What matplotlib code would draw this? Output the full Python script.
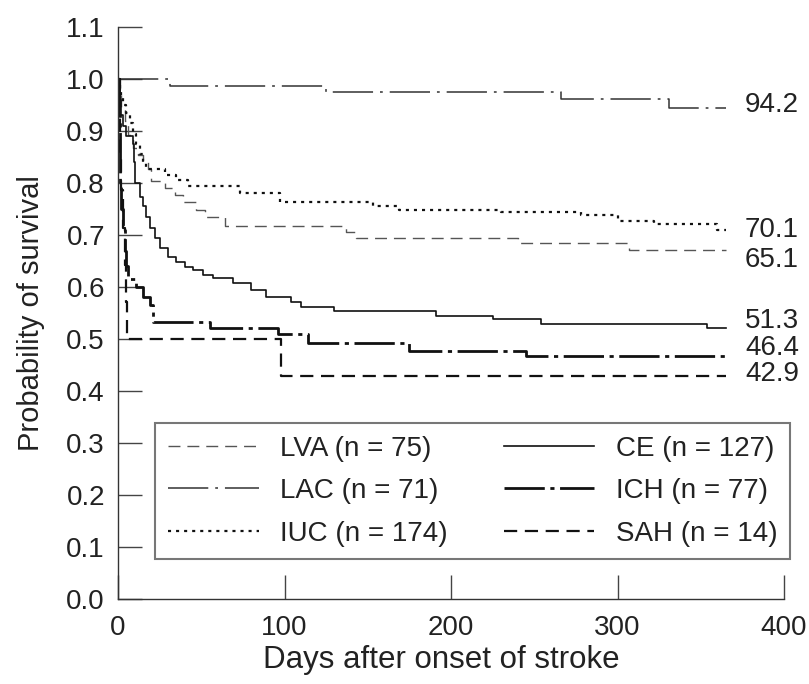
import matplotlib
matplotlib.use("Agg")
import matplotlib.pyplot as plt

# ---------------------------------------------------------
# DATA (Kaplan-Meier steps)
# ---------------------------------------------------------
lva_days = [0, 1, 2, 4, 6, 9, 12, 15, 18, 20, 28, 34, 39, 47, 52, 64, 137, 143, 240, 307, 365]
lva_surv = [1.0, 0.973, 0.947, 0.92, 0.893, 0.867, 0.853, 0.84, 0.827, 0.803, 0.79, 0.777,
            0.764, 0.748, 0.735, 0.717, 0.706, 0.694, 0.684, 0.671, 0.671]

lac_days = [0, 31, 125, 266, 331, 365]
lac_surv = [1.0, 0.987, 0.975, 0.961, 0.945, 0.945]

iuc_days = [0, 1, 2, 3, 5, 7, 9, 11, 13, 15, 17, 28, 35, 42, 73, 97, 153, 169, 230, 278, 300, 322, 360, 365]
iuc_surv = [1.0, 0.98, 0.965, 0.95, 0.935, 0.915, 0.895, 0.875, 0.855, 0.84, 0.826, 0.815,
            0.805, 0.795, 0.78, 0.764, 0.755, 0.748, 0.745, 0.738, 0.726, 0.722, 0.71, 0.71]

ce_days = [0, 1, 2, 3, 5, 9, 9.6, 10, 13, 15, 17, 19, 22, 25, 30, 35, 40, 45, 51, 57, 69, 80,
           89, 104, 110, 130, 191, 225, 254, 354, 365]
ce_surv = [1.0, 0.96, 0.93, 0.91, 0.89, 0.875, 0.84, 0.80, 0.774, 0.755, 0.735, 0.713, 0.694,
           0.675, 0.658, 0.649, 0.639, 0.633, 0.623, 0.617, 0.607, 0.594, 0.581, 0.572, 0.562,
           0.554, 0.544, 0.538, 0.529, 0.522, 0.522]

ich_days = [0, 0.5, 1, 1.5, 2, 3, 4, 5, 6, 11, 15, 19, 21, 55, 96, 114, 175, 245, 365]
ich_surv = [1.0, 0.93, 0.86, 0.80, 0.75, 0.71, 0.67, 0.64, 0.615, 0.60, 0.58, 0.565, 0.533,
            0.522, 0.51, 0.492, 0.476, 0.468, 0.468]

sah_days = [0, 0.5, 1, 2, 3, 4, 5, 5.6, 98, 365]
sah_surv = [1.0, 0.929, 0.857, 0.786, 0.714, 0.643, 0.571, 0.5, 0.429, 0.429]

legend_labels = ["LVA (n = 75)", "LAC (n = 71)", "IUC (n = 174)",
                 "CE (n = 127)", "ICH (n = 77)", "SAH (n = 14)"]
end_labels = ["94.2", "70.1", "65.1", "51.3", "46.4", "42.9"]

# ---------------------------------------------------------
# STYLE
# ---------------------------------------------------------
plt.rcParams['font.family'] = ['Liberation Sans', 'DejaVu Sans']
plt.rcParams['lines.scale_dashes'] = False
FS = 20

fig = plt.figure(figsize=(8.09, 6.84), dpi=100)
ax = fig.add_axes([118 / 809, 1 - 599 / 684, 666 / 809, 572 / 684])

l_lva, = ax.step(lva_days, lva_surv, where='post', color='#555555', lw=1.0, dashes=(8.6, 5))
l_lac, = ax.step(lac_days, lac_surv, where='post', color='#333333', lw=1.1, dashes=(29, 5, 2, 5))
l_iuc, = ax.step(iuc_days, iuc_surv, where='post', color='#111111', lw=1.6, dashes=(2.2, 3.6))
l_ce, = ax.step(ce_days, ce_surv, where='post', color='#111111', lw=1.2)
l_ich, = ax.step(ich_days, ich_surv, where='post', color='#111111', lw=2.0, dashes=(29, 4, 3, 4))
l_sah, = ax.step(sah_days, sah_surv, where='post', color='#111111', lw=1.6, dashes=(9.5, 5.5))

# numbers at curve ends
label_y = [0.950, 0.710, 0.652, 0.535, 0.482, 0.432]
for txt, yy in zip(end_labels, label_y):
    ax.text(376.6, yy, txt, fontsize=FS, va='center', ha='left', color='#222222')

ax.set_xlim(0, 400)
ax.set_ylim(0, 1.1)
ax.set_xticks([0, 100, 200, 300, 400])
ax.set_yticks([i / 10 for i in range(12)])
ax.set_yticklabels([f"{i / 10:.1f}" for i in range(12)])

for side in ['top', 'right']:
    ax.spines[side].set_visible(False)
for side in ['left', 'bottom']:
    ax.spines[side].set_color('#333333')
    ax.spines[side].set_linewidth(1.0)

ax.tick_params(axis='both', direction='in', length=17, width=1.0, color='#444444',
               labelsize=FS, labelcolor='#222222')
ax.tick_params(axis='y', pad=9.4)
ax.tick_params(axis='x', pad=11.5)

ax.set_xlabel("Days after onset of stroke", fontsize=22.5, color='#222222')
ax.xaxis.set_label_coords(0.485, -0.081)
ax.set_ylabel("Probability of survival", fontsize=21, color='#222222')
ax.yaxis.set_label_coords(-0.11, 0.5)

leg = ax.legend([l_lva, l_lac, l_iuc, l_ce, l_ich, l_sah], legend_labels, ncol=2,
                loc='lower left', bbox_to_anchor=(0.0563, 0.0699, 0.9527, 0.2395),
                mode='expand', borderaxespad=0, fontsize=FS, handlelength=3.27,
                handletextpad=0.77, borderpad=0.45, labelspacing=0.59, fancybox=False,
                frameon=True)
leg.get_frame().set_edgecolor('#555555')
leg.get_frame().set_linewidth(1.5)
for t in leg.get_texts():
    t.set_color('#222222')

fig.savefig("out.png", dpi=100)
